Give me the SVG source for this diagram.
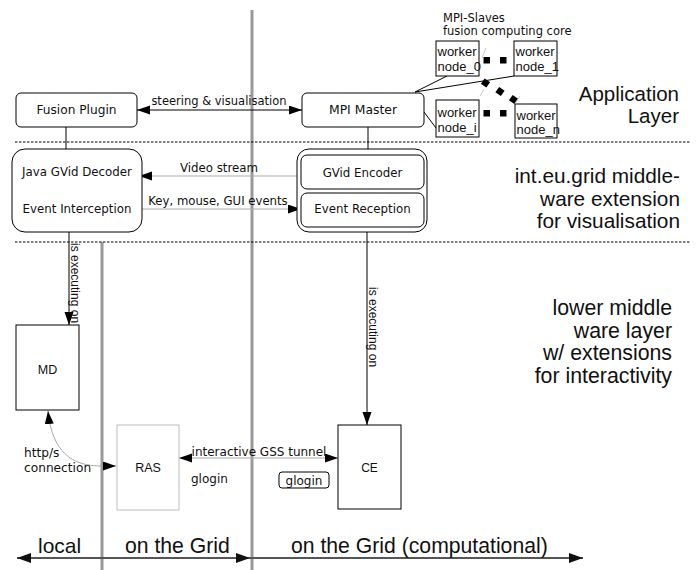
<svg xmlns="http://www.w3.org/2000/svg" width="698" height="570" viewBox="0 0 698 570">
<style>
.box{fill:#fff;stroke:#000;stroke-width:1}
.lbl{font-family:"DejaVu Sans",sans-serif;font-size:11.8px;fill:#111}
.ar{font-family:"Liberation Sans",Arial,sans-serif;fill:#111}
.big{font-family:"Liberation Sans",Arial,sans-serif;font-size:20.8px;fill:#111}
.gline{stroke:#aaa;stroke-width:1;fill:none}
.bline{stroke:#000;stroke-width:1;fill:none}
.sep{stroke:#000;stroke-width:1;stroke-dasharray:2.5 1.5}
.vsep{stroke:#999;stroke-width:3}
.dot{fill:#000}
</style>
<defs>
<marker id="ah" markerUnits="userSpaceOnUse" markerWidth="14" markerHeight="10" refX="13" refY="4.5" orient="auto-start-reverse">
<path d="M0,0 L13,4.5 L0,9 z" fill="#000"/>
</marker>
<marker id="ahb" markerUnits="userSpaceOnUse" markerWidth="15" markerHeight="11" refX="14" refY="5" orient="auto-start-reverse">
<path d="M0,0 L14,5 L0,10 z" fill="#111"/>
</marker>
</defs>

<!-- separators -->
<g id="separators">
<line class="vsep" x1="252" y1="10" x2="252" y2="570"/>
<line class="vsep" x1="102" y1="242" x2="102" y2="570"/>
<line class="sep" x1="15" y1="142" x2="690" y2="142"/>
<line class="sep" x1="15" y1="242" x2="690" y2="242"/>
</g>

<!-- layer labels -->
<g id="layer-labels" text-anchor="end">
<text class="big" x="679" y="101" style="font-size:20.5px">Application</text>
<text class="big" x="679" y="123" style="font-size:20.5px">Layer</text>
<text class="big" x="680" y="183">int.eu.grid middle-</text>
<text class="big" x="680" y="206">ware extension</text>
<text class="big" x="680" y="228">for visualisation</text>
<text class="big" x="672" y="315" style="font-size:21.3px">lower middle</text>
<text class="big" x="672" y="338" style="font-size:21.3px">ware layer</text>
<text class="big" x="672" y="360" style="font-size:21.3px">w/ extensions</text>
<text class="big" x="672" y="383" style="font-size:21.3px">for interactivity</text>
</g>

<!-- connectors -->
<g id="connectors">
<line class="bline" x1="137" y1="110" x2="302" y2="110" marker-start="url(#ah)" marker-end="url(#ah)"/>
<text class="lbl" x="219" y="105" text-anchor="middle" style="font-size:11.5px">steering &amp; visualisation</text>
<line class="bline" x1="66" y1="127" x2="66" y2="149"/>
<line class="bline" x1="368" y1="127" x2="368" y2="149"/>
<line class="gline" x1="297" y1="176" x2="139" y2="176" marker-end="url(#ah)"/>
<text class="lbl" x="219" y="172" text-anchor="middle">Video stream</text>
<line class="gline" x1="142" y1="209" x2="301" y2="209" marker-end="url(#ah)"/>
<text class="lbl" x="218" y="205" text-anchor="middle" style="font-size:11.7px">Key, mouse, GUI events</text>
<line class="bline" x1="69" y1="232" x2="69" y2="325" marker-end="url(#ah)"/>
<text class="ar" font-size="12" transform="translate(71,243) rotate(90)">is executing on</text>
<line class="bline" x1="367" y1="232" x2="367" y2="425" marker-end="url(#ah)"/>
<text class="ar" font-size="12" transform="translate(369,287) rotate(90)">is executing on</text>
<line class="gline" x1="179" y1="458" x2="338" y2="458" marker-start="url(#ah)" marker-end="url(#ah)"/>
<text class="lbl" x="259" y="456" text-anchor="middle" style="font-size:12px">interactive GSS tunnel</text>
<text class="lbl" x="191" y="483" style="font-size:12px">glogin</text>
<path class="gline" d="M116,466 L101,466 C72,466 52,452 48,411" marker-start="url(#ah)" marker-end="url(#ah)"/>
<text class="lbl" x="24" y="457" style="font-size:12.2px">http/s</text>
<text class="lbl" x="24" y="472" style="font-size:12.2px">connection</text>
<!-- MPI master to workers -->
<line class="bline" x1="415" y1="92" x2="447" y2="76"/>
<line class="bline" x1="415" y1="92" x2="514" y2="76"/>
<line class="bline" x1="424" y1="112" x2="436" y2="128"/>
<!-- dotted links between workers -->
<rect class="dot" x="483.5" y="57" width="6.5" height="6.5"/>
<rect class="dot" x="500" y="57" width="6.5" height="6.5"/>
<rect class="dot" x="483.5" y="110" width="6.5" height="6.5"/>
<rect class="dot" x="500" y="110" width="6.5" height="6.5"/>
<rect class="dot" x="-3.3" y="-3.3" width="6.6" height="6.6" transform="translate(485.5,83) rotate(35)"/>
<rect class="dot" x="-3.3" y="-3.3" width="6.6" height="6.6" transform="translate(500,91.5) rotate(35)"/>
<rect class="dot" x="-3.3" y="-3.3" width="6.6" height="6.6" transform="translate(513.5,99.5) rotate(35)"/>
<line x1="486" y1="48" x2="482" y2="58" stroke="#bbb" stroke-width="0.8"/>
<line x1="484" y1="89" x2="480" y2="96" stroke="#bbb" stroke-width="0.8"/>
<line x1="520" y1="96" x2="515" y2="103" stroke="#bbb" stroke-width="0.8"/>
<!-- bottom axis -->
<line x1="17" y1="558" x2="250" y2="558" stroke="#555" stroke-width="2" marker-start="url(#ahb)" marker-end="url(#ahb)"/>
<line x1="250" y1="558" x2="583" y2="558" stroke="#555" stroke-width="2" marker-end="url(#ahb)"/>
</g>

<g id="axis-labels">
<text class="big" x="38" y="553" style="font-size:21px">local</text>
<text class="big" x="125" y="553" style="font-size:21.2px">on the Grid</text>
<text class="big" x="291" y="553" style="font-size:21.2px">on the Grid (computational)</text>
</g>

<g id="mpi-slaves-label">
<text class="lbl" x="443" y="22" style="font-size:11.5px">MPI-Slaves</text>
<text class="lbl" x="443" y="35" style="font-size:11.5px">fusion computing core</text>
</g>

<g id="fusion-plugin">
<rect class="box" x="16" y="93" width="121" height="34" rx="5"/>
<text class="lbl" x="76.5" y="114" text-anchor="middle" style="font-size:12.2px">Fusion Plugin</text>
</g>
<g id="mpi-master">
<rect class="box" x="302" y="93" width="122" height="34" rx="5"/>
<text class="lbl" x="363" y="114" text-anchor="middle" style="font-size:12.4px">MPI Master</text>
</g>
<g id="worker0">
<rect class="box" x="436" y="41" width="43" height="35"/>
<text class="ar" font-size="13" x="437.5" y="56">worker</text>
<text class="ar" font-size="13" x="437.5" y="71">node_0</text>
</g>
<g id="worker1">
<rect class="box" x="514" y="41" width="43" height="35"/>
<text class="ar" font-size="13" x="515.5" y="56">worker</text>
<text class="ar" font-size="13" x="515.5" y="71">node_1</text>
</g>
<g id="workeri">
<rect class="box" x="436" y="100" width="43" height="37"/>
<text class="ar" font-size="13" x="437.5" y="117">worker</text>
<text class="ar" font-size="13" x="437.5" y="132">node_i</text>
</g>
<g id="workern">
<rect class="box" x="515" y="104" width="42" height="34"/>
<text class="ar" font-size="13" x="516.5" y="120">worker</text>
<text class="ar" font-size="13" x="516.5" y="134">node_n</text>
</g>
<g id="java-decoder">
<rect class="box" x="12" y="149" width="130" height="83" rx="13"/>
<text class="lbl" x="77" y="176" text-anchor="middle">Java GVid Decoder</text>
<text class="lbl" x="77" y="213" text-anchor="middle">Event Interception</text>
</g>
<g id="gvid-server">
<rect class="box" x="297" y="149" width="130" height="83" rx="12"/>
<rect class="box" x="301" y="155" width="123" height="34" rx="6"/>
<text class="lbl" x="362.5" y="177" text-anchor="middle">GVid Encoder</text>
<rect class="box" x="301" y="193" width="123" height="34" rx="6"/>
<text class="lbl" x="362.5" y="213" text-anchor="middle">Event Reception</text>
</g>
<g id="md">
<rect class="box" x="16" y="325" width="63" height="85"/>
<text class="ar" font-size="12.5" x="47.5" y="374" text-anchor="middle">MD</text>
</g>
<g id="ras">
<rect x="117" y="425" width="62" height="85" fill="#fff" stroke="#bbb" stroke-width="1"/>
<text class="ar" font-size="12.5" x="148" y="472" text-anchor="middle">RAS</text>
</g>
<g id="ce">
<rect class="box" x="338" y="425" width="63" height="84"/>
<text class="ar" font-size="12" x="369.5" y="472" text-anchor="middle">CE</text>
</g>
<g id="glogin-box">
<rect class="box" x="279" y="472" width="50" height="16" rx="3"/>
<text class="lbl" x="304" y="485" text-anchor="middle" style="font-size:12px">glogin</text>
</g>
</svg>
